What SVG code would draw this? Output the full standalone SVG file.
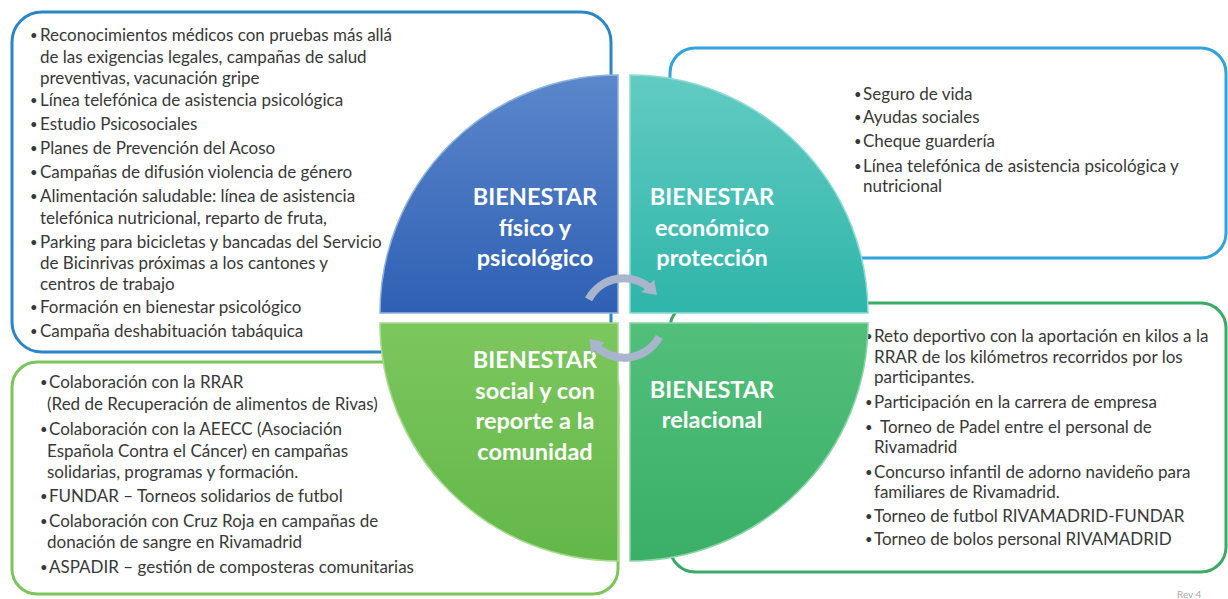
<svg xmlns="http://www.w3.org/2000/svg" width="1228" height="599" viewBox="0 0 1228 599">
<style>
.box{fill:#fff;stroke-width:3}
.t{font-family:Lato,"Open Sans","Liberation Sans",sans-serif;font-size:17px;fill:#383838}
.b{font-family:Lato,"Open Sans","Liberation Sans",sans-serif;font-size:13px;fill:#383838}
.q{font-family:Lato,"Open Sans","Liberation Sans",sans-serif;font-size:23.5px;font-weight:bold;fill:#fff;text-anchor:middle}
.arc{fill:none;stroke:#a9b5cd;stroke-width:8}
.rev{font-family:Lato,"Liberation Sans",sans-serif;font-size:10px;fill:#aaa}
</style>
<defs>
<linearGradient id="gb" x1="0" y1="0" x2="0" y2="1"><stop offset="0" stop-color="#5b87cb"/><stop offset="1" stop-color="#2f60b4"/></linearGradient>
<linearGradient id="gt" x1="0" y1="0" x2="0" y2="1"><stop offset="0" stop-color="#62cbc2"/><stop offset="1" stop-color="#2fb5a9"/></linearGradient>
<linearGradient id="gl" x1="0" y1="0" x2="0" y2="1"><stop offset="0" stop-color="#7cc75e"/><stop offset="1" stop-color="#63b748"/></linearGradient>
<linearGradient id="gr" x1="0" y1="0" x2="0" y2="1"><stop offset="0" stop-color="#52bf7b"/><stop offset="1" stop-color="#3aaf66"/></linearGradient>
<marker id="ah" markerUnits="userSpaceOnUse" markerWidth="20" markerHeight="20" refX="6" refY="10" orient="auto"><path d="M0,1 L13,10 L0,19 Z" fill="#a9b5cd"/></marker>
</defs>
<rect width="1228" height="599" fill="#fff"/>
<g id="box-fisico">
<rect class="box" x="12" y="12" width="599" height="340" rx="30" stroke="#2b86c9"/>
<text class="b" x="30" y="40">•</text>
<text class="t" x="40" y="41">Reconocimientos médicos con pruebas más allá</text>
<text class="t" x="40" y="63">de las exigencias legales, campañas de salud</text>
<text class="t" x="40" y="84">preventivas, vacunación gripe</text>
<text class="b" x="30" y="105">•</text><text class="t" x="40" y="106">Línea telefónica de asistencia psicológica</text>
<text class="b" x="30" y="129">•</text><text class="t" x="40" y="130">Estudio Psicosociales</text>
<text class="b" x="30" y="153">•</text><text class="t" x="40" y="154">Planes de Prevención del Acoso</text>
<text class="b" x="30" y="177">•</text><text class="t" x="40" y="178">Campañas de difusión violencia de género</text>
<text class="b" x="30" y="201">•</text><text class="t" x="40" y="202">Alimentación saludable: línea de asistencia</text>
<text class="t" x="40" y="224">telefónica nutricional, reparto de  fruta,</text>
<text class="b" x="30" y="247">•</text><text class="t" x="40" y="248">Parking para bicicletas y bancadas del Servicio</text>
<text class="t" x="40" y="269">de Bicinrivas próximas a los cantones y</text>
<text class="t" x="40" y="290">centros de trabajo</text>
<text class="b" x="30" y="312">•</text><text class="t" x="40" y="313">Formación en bienestar psicológico</text>
<text class="b" x="30" y="336">•</text><text class="t" x="40" y="337">Campaña deshabituación tabáquica</text>
</g>
<g id="box-economico">
<rect class="box" x="670" y="48" width="556" height="210" rx="25" stroke="#2ea3dc"/>
<text class="b" x="854" y="99">•</text><text class="t" x="863" y="100">Seguro de vida</text>
<text class="b" x="854" y="122">•</text><text class="t" x="863" y="123">Ayudas sociales</text>
<text class="b" x="854" y="146">•</text><text class="t" x="863" y="147">Cheque guardería</text>
<text class="b" x="854" y="171">•</text><text class="t" x="863" y="172">Línea telefónica de  asistencia psicológica y</text>
<text class="t" x="863" y="192">nutricional</text>
</g>
<g id="box-social">
<rect class="box" x="12" y="362" width="606" height="232" rx="25" stroke="#7cc55a"/>
<text class="b" x="40" y="387">•</text><text class="t" x="49" y="388">Colaboración con la RRAR</text>
<text class="t" x="47" y="410">(Red de Recuperación de alimentos de Rivas)</text>
<text class="b" x="40" y="434">•</text><text class="t" x="49" y="435">Colaboración con la AEECC (Asociación</text>
<text class="t" x="47" y="457">Española Contra el Cáncer) en campañas</text>
<text class="t" x="47" y="478">solidarias, programas y formación.</text>
<text class="b" x="40" y="501">•</text><text class="t" x="49" y="502">FUNDAR – Torneos solidarios de futbol</text>
<text class="b" x="40" y="526">•</text><text class="t" x="49" y="527">Colaboración con Cruz Roja en  campañas de</text>
<text class="t" x="47" y="548">donación de  sangre en Rivamadrid</text>
<text class="b" x="40" y="572">•</text><text class="t" x="49" y="573">ASPADIR – gestión de composteras comunitarias</text>
</g>
<g id="box-relacional">
<rect class="box" x="670" y="303" width="556" height="269" rx="25" stroke="#3aaa66"/>
<text class="b" x="865" y="341">•</text><text class="t" x="874" y="342">Reto deportivo con la aportación en  kilos a la</text>
<text class="t" x="874" y="363">RRAR de los kilómetros recorridos por los</text>
<text class="t" x="874" y="383">participantes.</text>
<text class="b" x="865" y="407">•</text><text class="t" x="874" y="408">Participación en la carrera de empresa</text>
<text class="b" x="865" y="432">•</text><text class="t" x="880" y="433">Torneo de Padel entre el personal de</text>
<text class="t" x="874" y="453">Rivamadrid</text>
<text class="b" x="865" y="477">•</text><text class="t" x="874" y="478">Concurso infantil de adorno navideño para</text>
<text class="t" x="874" y="498">familiares de Rivamadrid.</text>
<text class="b" x="865" y="521">•</text><text class="t" x="874" y="522">Torneo de futbol RIVAMADRID-FUNDAR</text>
<text class="b" x="865" y="544">•</text><text class="t" x="874" y="545">Torneo de bolos personal RIVAMADRID</text>
</g>
<g id="q-fisico">
<path d="M618,313 L380,313 A238,238 0 0 1 618,75 Z" fill="url(#gb)" stroke="#8fb2e3" stroke-width="1.5"/>
<text class="q" x="535" y="205">BIENESTAR</text>
<text class="q" x="535" y="236">físico y</text>
<text class="q" x="535" y="266">psicológico</text>
</g>
<g id="q-economico">
<path d="M630,313 L630,75 A238,238 0 0 1 868,313 Z" fill="url(#gt)" stroke="#8fdcd4" stroke-width="1.5"/>
<text class="q" x="712" y="205">BIENESTAR</text>
<text class="q" x="712" y="236">económico</text>
<text class="q" x="712" y="266">protección</text>
</g>
<g id="q-social">
<path d="M618,323 L618,561 A238,238 0 0 1 380,323 Z" fill="url(#gl)" stroke="#a6da8e" stroke-width="1.5"/>
<text class="q" x="535" y="368">BIENESTAR</text>
<text class="q" x="535" y="399">social y con</text>
<text class="q" x="535" y="429">reporte a la</text>
<text class="q" x="535" y="460">comunidad</text>
</g>
<g id="q-relacional">
<path d="M630,323 L868,323 A238,238 0 0 1 630,561 Z" fill="url(#gr)" stroke="#8ad4a6" stroke-width="1.5"/>
<text class="q" x="712" y="398">BIENESTAR</text>
<text class="q" x="712" y="428">relacional</text>
</g>
<g id="connectors">
<path class="arc" d="M588.6,299.3 A40,40 0 0 1 652,290" marker-end="url(#ah)"/>
<path class="arc" d="M659.3,336.8 A40,40 0 0 1 594,344" marker-end="url(#ah)"/>
</g>
<text class="rev" x="1177" y="598">Rev 4</text>
</svg>
